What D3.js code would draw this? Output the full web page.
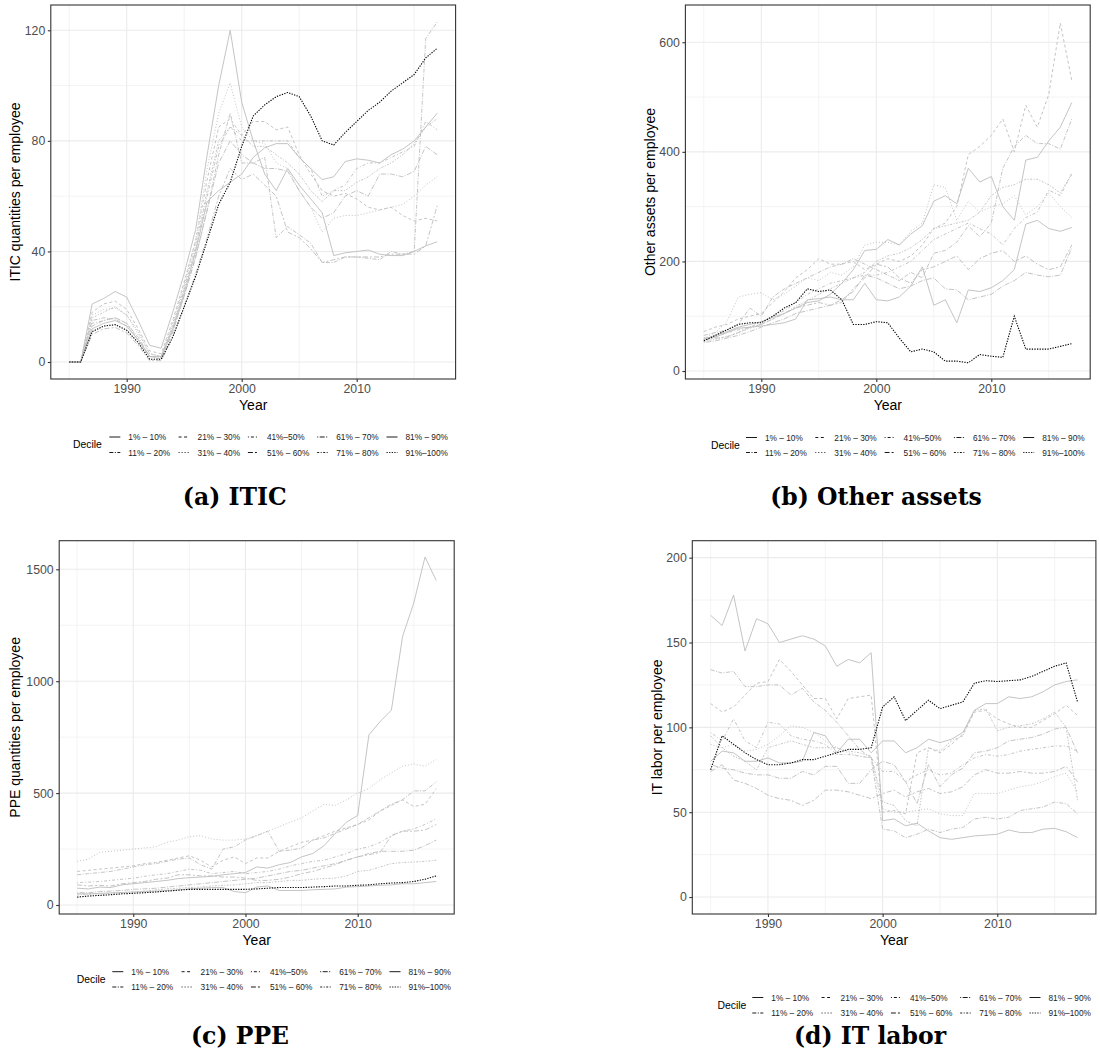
<!DOCTYPE html>
<html><head><meta charset="utf-8">
<script src="https://cdn.jsdelivr.net/npm/d3@7"></script>
<style>body{margin:0;background:#fff}</style>
</head><body>
<svg id="chart" width="1100" height="1051"></svg>
<script>
const years = [1985,1986,1987,1988,1989,1990,1991,1992,1993,1994,1995,1996,1997,1998,1999,2000,2001,2002,2003,2004,2005,2006,2007,2008,2009,2010,2011,2012,2013,2014,2015,2016,2017];
const deciles = ["1% – 10%","11% – 20%","21% – 30%","31% – 40%","41%–50%","51% – 60%","61% – 70%","71% – 80%","81% – 90%","91%–100%"];
const xTicks = [1990,2000,2010];
const xMinor = [1985,1995,2005,2015];

// (a) ITIC quantities per employee, one row per decile
const iticValues = [
 [0,0,21,23,25.5,23.5,15,6,5,18,32,48,75,100,120,94,80,68,62,70,64,59,54,38.5,39.5,40,40.5,39,38.5,38.5,40,42,43.5],
 [0,0,15,16,15.5,13,8,2,1,11,24,38,55,75,90,72,72,74,45,49,46,43,36,36,38,38,37.5,37,40,39,40,117,123],
 [0,0,18,21,22,19,12,4,3,15,29,44,66,85,88,82,87,87,84,85,75,68,62,60,61,59,56,55,56,53,51,52,51],
 [0,0,17,19,19.5,17,10,3,2,14,28,44,70,90,101,85,80,79,72,70,62,56,47,52,53,53,54,55,56,57,60,64,67],
 [0,0,14,15,16,14,8,2,2,12,26,41,60,78,85,80,80,80,80,80,74,70,60,62,64,70,72,72,74,76,78,87,84],
 [0,0,10,12,12.5,10.5,6,0.5,0.5,9,20,32,45,60,70,66,68,64,60,47,45,41,36,37,38,38,38,38,39,39,39,42,56.5],
 [0,0,13,15,16,14,9,2,1.5,11,24,38,55,72,80,75,72,70,70,69,62,56,52,54,60,62,60,68,68,67,69,78,75],
 [0,0,16,18,20,17,11,3,2,13,27,42,62,80,85,82,78,78,75,72,68,62,58,62,62,65,67,70,72,75,79,85,88],
 [0,0,12,14,15,13,8,2,2,12,25,40,58,62,65,68,74,77.5,79,79,74,70,66,67,72.5,73.5,73,72,75,77,80,85,90],
 [0,0,11,13,13.5,11.5,7,1,1,9,20,31,44,57,65,78,89,93,96,97.5,96,89,80,78.5,83,87,91,94,98,101,104,110,113.5]
];
const iticTicks = [0,40,80,120];
const iticMinor = [20,60,100];

// (b) Other assets per employee
const otherValues = [
 [60,62,70,78,80,82,85,88,95,130,132,135,130,130,160,130,128,135,155,190,120,130,88,148,145,152,165,185,268,275,260,255,262],
 [65,70,75,85,115,100,135,150,160,170,180,190,195,205,195,185,175,165,180,170,215,220,235,265,245,270,370,410,430,415,415,405,460],
 [72,80,85,95,100,105,125,145,170,185,205,195,195,200,185,195,205,200,210,230,260,270,300,395,410,430,460,400,485,445,505,635,530],
 [60,70,90,135,140,143,130,140,155,170,165,180,175,190,230,235,235,230,255,270,340,335,275,310,290,300,305,320,285,300,325,300,280],
 [55,62,70,75,80,90,100,110,125,140,150,160,165,170,175,175,180,190,200,220,240,250,260,270,260,250,230,260,280,290,330,320,360],
 [58,60,62,70,80,85,95,105,115,120,125,120,125,150,170,195,190,170,160,185,190,200,210,185,205,215,220,200,210,195,185,190,230],
 [52,55,60,65,72,80,88,95,105,110,115,120,130,145,175,170,160,150,155,165,170,150,148,130,135,140,155,165,180,175,172,175,225],
 [54,58,63,70,78,85,95,105,118,128,140,150,160,170,180,200,210,215,225,240,260,265,270,275,290,320,335,340,350,350,340,325,360],
 [58,65,72,80,85,90,98,105,115,125,128,140,160,185,220,222,240,230,250,265,310,320,305,370,345,355,300,275,385,390,420,445,490],
 [55,65,75,85,88,88,100,115,125,150,145,148,130,85,85,90,88,60,35,40,35,18,18,15,30,27,25,100,40,40,40,45,50]
];
const otherTicks = [0,200,400,600];
const otherMinor = [100,300,500];

// (c) PPE quantities per employee
const ppeValues = [
 [75,72,80,78,90,95,100,105,110,118,122,125,128,135,140,145,170,165,180,190,215,230,265,320,370,400,760,820,870,1200,1350,1555,1450],
 [135,140,145,150,160,170,180,185,195,205,210,180,160,250,260,290,310,330,240,245,255,290,300,320,340,360,390,420,450,470,510,510,550],
 [150,155,160,165,170,175,185,190,200,210,220,200,170,200,215,185,210,210,240,260,280,290,310,330,345,360,380,420,445,470,440,450,520],
 [195,205,235,240,245,250,255,260,280,290,305,310,295,290,290,295,310,330,350,370,390,420,450,445,470,500,520,560,590,620,630,620,650],
 [100,102,105,110,115,120,128,135,140,150,160,155,140,145,150,140,145,150,160,175,185,195,200,215,230,250,260,280,310,330,340,360,385],
 [90,85,88,85,95,100,105,115,120,135,135,130,130,125,125,120,110,110,115,125,140,150,165,180,200,215,225,235,310,330,330,335,360],
 [55,55,60,62,65,70,72,75,80,85,90,95,100,105,110,115,120,130,140,150,155,165,175,185,200,215,230,240,240,240,245,265,290],
 [45,48,50,52,55,58,62,68,72,75,78,80,85,88,90,95,100,100,105,110,110,115,118,120,130,150,155,170,185,190,192,195,200],
 [50,50,52,54,56,58,60,62,65,68,72,75,78,78,60,55,80,85,65,65,65,68,70,72,80,82,85,88,90,95,95,100,105],
 [35,40,43,46,50,52,55,58,62,66,70,70,70,70,70,70,72,75,78,78,78,80,82,85,85,88,90,95,98,100,105,115,130]
];
const ppeTicks = [0,500,1000,1500];
const ppeMinor = [250,750,1250];

// (d) IT labor per employee
const laborValues = [
 [166,160,178,145,164,161,150,152,154,152,148,136,140,138,144,45,46,42,43.5,39,35,34,35,36,36.5,37,39.5,38,38,40,40.5,38.5,35],
 [134,132,133,124,124,125,125,119,123,115,110,103,95,87,82,40,39,35,37,40,38,40,41,46,47,46,47,51,52,53,56,55,49],
 [114,109,112,119,126,127,140,133,125,117,117,105,117,118,119,50,51,49,85,88,85,90,96,109,110,105,102,100,100,104,108,113,107],
 [90,88,90,86,87,90,95,101,100,97,92,88,85,83,82,52,50,50,51,52,49,48,48,61,61,61,63,65,66,68,71,73,62],
 [97,92,105,92,88,103,102,95,93,92,90,84,84,83,82,74,74,68,72,75,72,73,78,82,84,83,84,86,87,88,89,89,86],
 [74,78,69,67,64,60,58,57,54,57,63,63,62,60,58,61,63,59,62,64,61,62,65,72,75,73,73,74,73,73,74,77,68],
 [78,76,75,73,72,72,70,70,74,72,77,77,67,67,75,80,78,68,55,78,65,72,76,85,86,88,92,93,94,96,99,100,85],
 [95,88,83,80,75,88,90,92,90,88,88,88,86,85,83,56,54,45,42,88,86,92,95,110,111,98,100,101,102,105,109,100,57],
 [80,86,85,80,80,82,79,79,80,97,95,85,93,93,85,92,92,85,88,93,91,93,97,110,114,114,118,117,118,121,125,127,128],
 [75,95,90,85,81,78,78,79,81,81,83,85,87,87,88,112,118,104,110,116,111,113,115,126,127.5,127,127.5,128,130,133,136,138,115]
];
const laborTicks = [0,50,100,150,200];
const laborMinor = [25,75,125,175];

// styles
const dashes = ["", "4,1.5,1,1.5", "3,2.5", "1,2", "1,2,3,2", "5,2,2,2", "1,1.5,5,1.5", "2,1.5,1,1.5", "", "1.3,1.3"];
const lineColors = ["#bdbdbd","#bdbdbd","#bdbdbd","#bdbdbd","#bdbdbd","#bdbdbd","#bdbdbd","#bdbdbd","#bdbdbd","#000000"];

const panels = [
 {values: iticValues, ticks: iticTicks, minor: iticMinor, yDomain:[-6.15,129.15],
  x0:50.8, x1:455.6, y0:5, y1:379, ylab:"ITIC quantities per employee", ylabX:15,
  leg:{dx:73, kx:109.3, rows:[437,452.5]}, cap:"(a) ITIC", capX:234.7, capY:505},
 {values: otherValues, ticks: otherTicks, minor: otherMinor, yDomain:[-14.6,668],
  x0:685.4, x1:1090.2, y0:5, y1:379, ylab:"Other assets per employee", ylabX:650,
  leg:{dx:711, kx:746, rows:[437.5,452.5]}, cap:"(b) Other assets", capX:876, capY:505},
 {values: ppeValues, ticks: ppeTicks, minor: ppeMinor, yDomain:[-40.2,1627.8],
  x0:59.2, x1:454.2, y0:540.7, y1:914, ylab:"PPE quantities per employee", ylabX:15,
  leg:{dx:76.7, kx:112.3, rows:[971.7,987]}, cap:"(c) PPE", capX:240, capY:1044},
 {values: laborValues, ticks: laborTicks, minor: laborMinor, yDomain:[-10,210],
  x0:692.3, x1:1095.9, y0:540.7, y1:914, ylab:"IT labor per employee", ylabX:656.5,
  leg:{dx:717.5, kx:752.3, rows:[997.5,1013]}, cap:"(d) IT labor", capX:870, capY:1044}
];

const svg = d3.select("#chart");
const SANS = "'Liberation Sans', Arial, Helvetica, sans-serif";

panels.forEach(p => {
  const x = d3.scaleLinear().domain([1983.4, 2018.6]).range([p.x0, p.x1]);
  const y = d3.scaleLinear().domain(p.yDomain).range([p.y1, p.y0]);
  const g = svg.append("g");

  // minor grid
  g.selectAll(null).data(p.minor).join("line")
    .attr("x1", p.x0).attr("x2", p.x1).attr("y1", d => y(d)).attr("y2", d => y(d))
    .attr("stroke", "#ebebeb").attr("stroke-width", 0.6);
  g.selectAll(null).data(xMinor).join("line")
    .attr("y1", p.y0).attr("y2", p.y1).attr("x1", d => x(d)).attr("x2", d => x(d))
    .attr("stroke", "#ebebeb").attr("stroke-width", 0.6);
  // major grid
  g.selectAll(null).data(p.ticks).join("line")
    .attr("x1", p.x0).attr("x2", p.x1).attr("y1", d => y(d)).attr("y2", d => y(d))
    .attr("stroke", "#ebebeb").attr("stroke-width", 1.1);
  g.selectAll(null).data(xTicks).join("line")
    .attr("y1", p.y0).attr("y2", p.y1).attr("x1", d => x(d)).attr("x2", d => x(d))
    .attr("stroke", "#ebebeb").attr("stroke-width", 1.1);

  // lines
  const line = d3.line().x((d, i) => x(years[i])).y(d => y(d));
  const order = d3.range(p.values.length);
  g.selectAll(null).data(order).join("path")
    .attr("d", i => line(p.values[i]))
    .attr("fill", "none")
    .attr("stroke", i => lineColors[i])
    .attr("stroke-width", i => i === 9 ? 1.1 : 0.9)
    .attr("stroke-dasharray", i => dashes[i] || null);

  // panel border
  g.append("rect").attr("x", p.x0).attr("y", p.y0)
    .attr("width", p.x1 - p.x0).attr("height", p.y1 - p.y0)
    .attr("fill", "none").attr("stroke", "#333333").attr("stroke-width", 1.1);

  // axes
  const xAxis = d3.axisBottom(x).tickValues(xTicks).tickFormat(d3.format("d")).tickSize(3).tickPadding(2);
  const gx = g.append("g").attr("transform", `translate(0,${p.y1})`).call(xAxis);
  gx.select(".domain").remove();
  gx.selectAll(".tick line").attr("stroke", "#333333").attr("stroke-width", 1.1);
  gx.selectAll(".tick text").attr("fill", "#4d4d4d").attr("font-size", 12.3).attr("font-family", SANS);

  const yAxis = d3.axisLeft(y).tickValues(p.ticks).tickFormat(d3.format("d")).tickSize(3).tickPadding(2.5);
  const gy = g.append("g").attr("transform", `translate(${p.x0},0)`).call(yAxis);
  gy.select(".domain").remove();
  gy.selectAll(".tick line").attr("stroke", "#333333").attr("stroke-width", 1.1);
  gy.selectAll(".tick text").attr("fill", "#4d4d4d").attr("font-size", 12.3).attr("font-family", SANS);

  // axis titles
  g.append("text").attr("x", (p.x0 + p.x1) / 2).attr("y", p.y1 + 31)
    .attr("text-anchor", "middle").attr("font-size", 14).attr("font-family", SANS)
    .attr("fill", "#000").text("Year");
  g.append("text").attr("transform", `translate(${p.ylabX + 5},${(p.y0 + p.y1) / 2}) rotate(-90)`)
    .attr("text-anchor", "middle").attr("font-size", 14).attr("font-family", SANS)
    .attr("fill", "#000").text(p.ylab);

  // legend
  const L = p.leg;
  g.append("text").attr("x", L.dx).attr("y", (L.rows[0] + L.rows[1]) / 2 + 3.6)
    .attr("font-size", 10.4).attr("font-family", SANS).attr("fill", "#000").text("Decile");
  deciles.forEach((lab, i) => {
    const col = Math.floor(i / 2), row = i % 2;
    const kx = L.kx + col * 69.3, ky = L.rows[row];
    g.append("line").attr("x1", kx).attr("x2", kx + 11).attr("y1", ky).attr("y2", ky)
      .attr("stroke", "#000").attr("stroke-width", 0.9)
      .attr("stroke-dasharray", dashes[i] || null);
    g.append("text").attr("x", kx + 19).attr("y", ky + 3)
      .attr("font-size", 8.3).attr("font-family", SANS).attr("fill", "#1a1a1a").text(lab);
  });

  // caption
  g.append("text").attr("x", p.capX).attr("y", p.capY).attr("text-anchor", "middle")
    .attr("font-family", "'DejaVu Serif', serif").attr("font-weight", "bold")
    .attr("font-size", 23.5).attr("fill", "#000").text(p.cap);
});
</script>
</body></html>
